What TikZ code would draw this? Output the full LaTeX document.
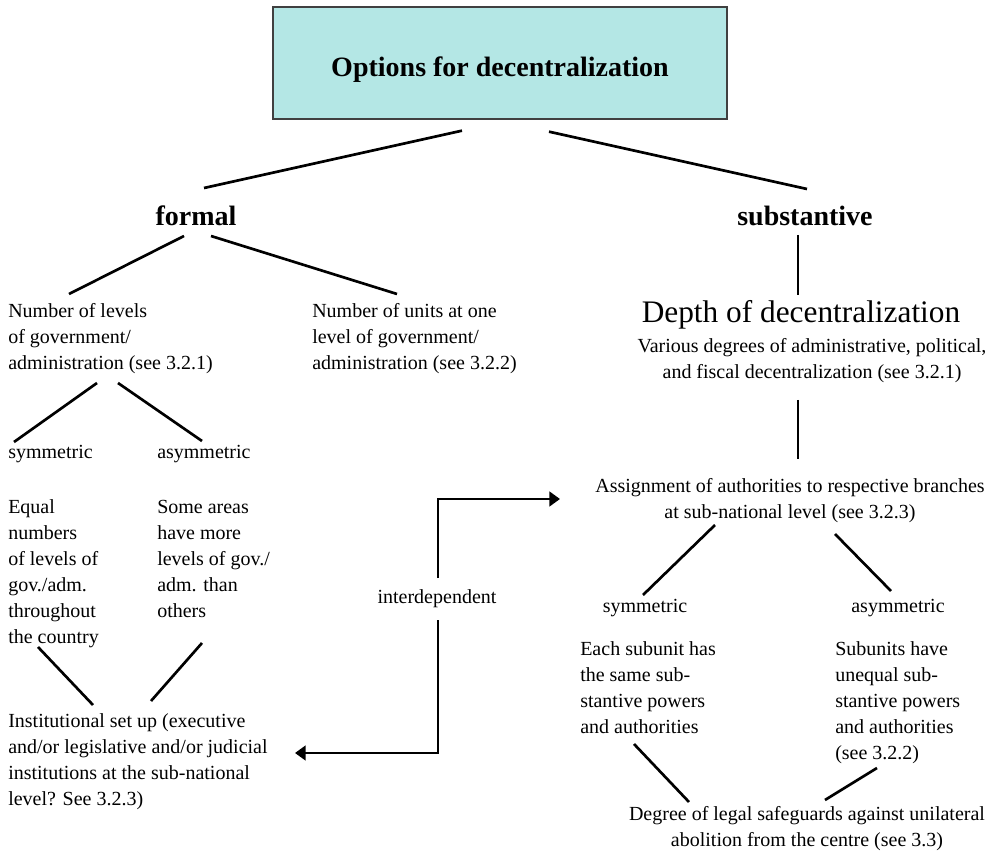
\documentclass[tikz,border=0pt]{standalone}
\usepackage{fontspec}
\setmainfont{Liberation Serif}
\usepackage{tikz}
\usetikzlibrary{arrows.meta,calc,positioning}
\usepackage{xcolor}
\definecolor{boxcyan}{HTML}{B4E7E5}
\definecolor{boxedge}{HTML}{404040}
\tikzset{
  txt/.style={inner sep=0pt,font=\fontsize{15}{19.5}\selectfont,align=left,anchor=base west},
  ctxt/.style={inner sep=0pt,font=\fontsize{15}{19.5}\selectfont,align=center,anchor=base},
  head/.style={inner sep=0pt,font=\fontsize{21}{25}\selectfont\bfseries,anchor=base},
  link/.style={line width=2pt},
  arr/.style={line width=2pt,-{Triangle[length=8pt,width=11pt]}}
}

\begin{document}
\begin{tikzpicture}[x=0.75pt,y=-0.75pt]
  \useasboundingbox (0,0) rectangle (997,852);
  % Title box
  \node[draw=boxedge,line width=1pt,fill=boxcyan,inner sep=0pt,anchor=base,
        minimum width=340.5pt,text height=52.5pt,text depth=31.5pt,
        font=\fontsize{21}{25}\selectfont\bfseries] (title) at (500,77) {Options for decentralization};
  % Two main branches
  \node[head] (formal) at (196,226) {formal};
  \node[head] (subst) at (805,226) {substantive};
  \draw[link] ($(title.south)+(-38,11)$) -- ($(formal.base)+(8,-38)$);
  \draw[link] ($(title.south)+(49,12)$) -- ($(subst.base)+(2,-37)$);

  % Formal side (multi-line nodes sit on their last line)
  \node[txt] (levels) at (8,370) {Number of levels\\of government/\\administration (see 3.2.1)};
  \node[txt] (units) at (312,370) {Number of units at one\\level of government/\\administration (see 3.2.2)};
  \draw[link] ($(formal.base)+(-12,10)$) -- ($(levels.base west)+(61,-76)$);
  \draw[link] ($(formal.base)+(15,10)$) -- ($(units.base west)+(85,-76)$);

  \node[txt] (lsym) at (8,459) {symmetric};
  \node[txt] (lasym) at (157,459) {asymmetric};
  \draw[link] ($(levels.base west)+(89,13)$) -- ($(lsym.base west)+(6,-17)$);
  \draw[link] ($(levels.base west)+(110,13)$) -- ($(lasym.base west)+(45,-18)$);

  \node[txt] (equal) at (8,643) {Equal\\numbers\\of levels of\\gov./adm.\\throughout\\the country};
  \node[txt] (some) at (157,617) {Some areas\\have more\\levels of gov./\\adm. than\\others};

  \node[txt] (inst) at (8,805) {Institutional set up (executive\\and/or legislative and/or judicial\\institutions at the sub-national\\level? See 3.2.3)};
  \draw[link] ($(equal.base west)+(30,4)$) -- ($(inst.base west)+(85,-100)$);
  \draw[link] ($(some.base west)+(45,26)$) -- ($(inst.base west)+(143,-104)$);

  % Substantive side
  \node[inner sep=0pt,anchor=base,font=\fontsize{23.5}{28}\selectfont] (depth) at (801,323) {Depth of decentralization};
  \node[ctxt] (various) at (812,379) {Various degrees of administrative, political,\\and fiscal decentralization (see 3.2.1)};
  \draw[link] ($(subst.base)+(-7,9)$) -- ($(depth.base)+(-3,-28)$);

  \node[ctxt] (assign) at (790,518) {Assignment of authorities to respective branches\\at sub-national level (see 3.2.3)};
  \draw[link] ($(various.base)+(-14,21)$) -- ($(assign.base)+(8,-59)$);

  \node[ctxt] (rsym) at (645,612) {symmetric};
  \node[ctxt] (rasym) at (898,612) {asymmetric};
  \draw[link] ($(assign.base)+(-75,7)$) -- ($(rsym.base)+(-2,-17)$);
  \draw[link] ($(assign.base)+(45,16)$) -- ($(rasym.base)+(-7,-21)$);

  \node[txt] (each) at (580,733) {Each subunit has\\the same sub-\\stantive powers\\and authorities};
  \node[txt] (subunits) at (835,759) {Subunits have\\unequal sub-\\stantive powers\\and authorities\\(see 3.2.2)};

  \node[ctxt] (degree) at (807,846) {Degree of legal safeguards against unilateral\\abolition from the centre (see 3.3)};
  \draw[link] ($(each.base west)+(54,11)$) -- ($(degree.base)+(-118,-44)$);
  \draw[link] ($(subunits.base west)+(42,9)$) -- ($(degree.base)+(18,-46)$);

  % Interdependence arrows
  \node[ctxt] (inter) at (437,603) {interdependent};
  \draw[arr] ($(inter.base)+(1,-25)$) |- ($(assign.base)+(-230,-19)$);
  \draw[arr] ($(inter.base)+(1,17)$) |- ($(inst.base west)+(287,-52)$);
\end{tikzpicture}
\end{document}
